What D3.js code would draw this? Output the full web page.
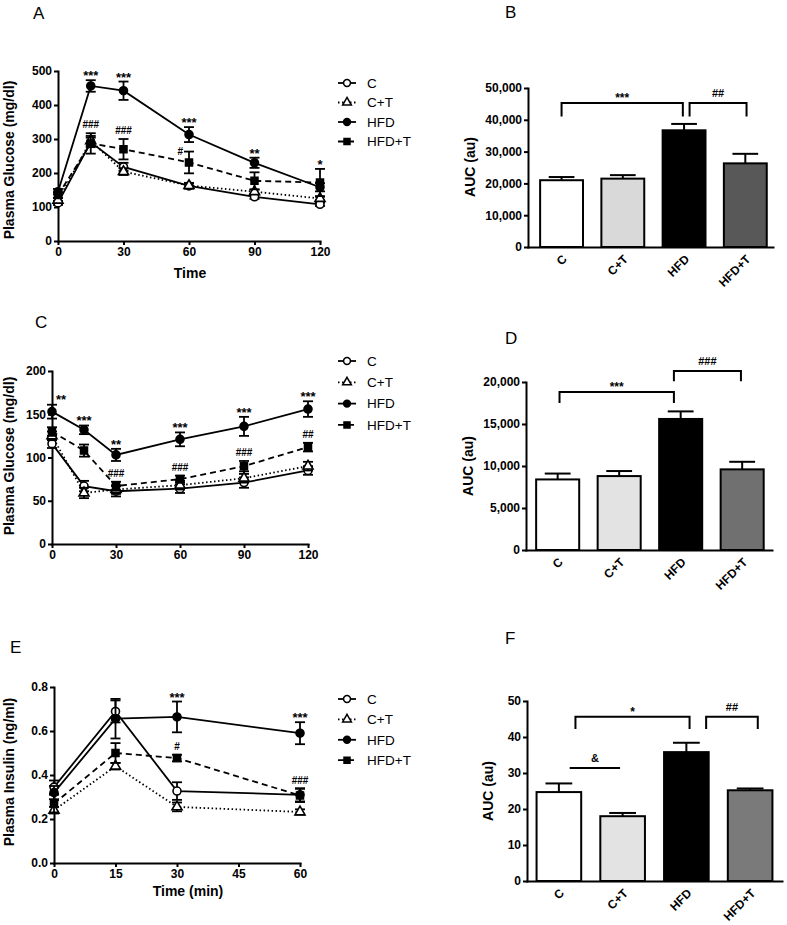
<!DOCTYPE html>
<html><head><meta charset="utf-8">
<script src="https://cdn.jsdelivr.net/npm/d3@7/dist/d3.min.js"></script>
<style>
body{margin:0;background:#fff}
svg{font-family:"Liberation Sans",Arial,sans-serif;display:block}
</style></head><body>
<svg id="fig" width="787" height="925"></svg>
<script>
// ---------------- DATA ----------------
const groups = ["C", "C+T", "HFD", "HFD+T"];

// Panel A: glucose tolerance test
const timeGTT = [0, 15, 30, 60, 90, 120];
const gttC = [112, 290, 218, 162, 130, 108];
const gttCErr = [6, 14, 12, 8, 6, 5];
const gttCT = [120, 295, 204, 163, 145, 125];
const gttCTErr = [6, 14, 10, 8, 6, 5];
const gttHFD = [145, 456, 442, 313, 230, 158];
const gttHFDErr = [8, 17, 27, 22, 15, 12];
const gttHFDT = [135, 287, 270, 231, 177, 172];
const gttHFDTErr = [8, 30, 30, 32, 25, 40];
const gttYTicks = [0, 100, 200, 300, 400, 500];
const gttXTicks = [0, 30, 60, 90, 120];

// Panel C: insulin tolerance test
const timeITT = [0, 15, 30, 60, 90, 120];
const ittC = [116, 67, 61, 64, 71, 85];
const ittCErr = [5, 6, 6, 5, 6, 5];
const ittCT = [125, 59, 63, 68, 76, 90];
const ittCTErr = [5, 6, 5, 5, 5, 5];
const ittHFD = [153, 132, 103, 121, 136, 156];
const ittHFDErr = [8, 5, 7, 8, 11, 9];
const ittHFDT = [130, 108, 67, 75, 90, 112];
const ittHFDTErr = [5, 7, 5, 4, 6, 5];
const ittYTicks = [0, 50, 100, 150, 200];
const ittXTicks = [0, 30, 60, 90, 120];

// Panel E: plasma insulin
const timeIns = [0, 15, 30, 60];
const insC = [0.345, 0.689, 0.327, 0.31];
const insCErr = [0.03, 0.05, 0.04, 0.03];
const insCT = [0.24, 0.44, 0.255, 0.232];
const insCTErr = [0.015, 0.015, 0.02, 0.012];
const insHFD = [0.32, 0.656, 0.664, 0.59];
const insHFDErr = [0.03, 0.09, 0.07, 0.05];
const insHFDT = [0.27, 0.50, 0.477, 0.307];
const insHFDTErr = [0.04, 0.045, 0.015, 0.03];
const insYTicks = [0, 0.2, 0.4, 0.6, 0.8];
const insXTicks = [0, 15, 30, 45, 60];

// Panels B, D, F: AUC
const aucGTT = [21000, 21500, 36700, 26300];
const aucGTTErr = [1000, 1100, 2000, 3000];
const aucGTTTicks = [0, 10000, 20000, 30000, 40000, 50000];
const aucITT = [8400, 8800, 15600, 9600];
const aucITTErr = [700, 600, 900, 900];
const aucITTTicks = [0, 5000, 10000, 15000, 20000];
const aucIns = [24.7, 18.0, 35.8, 25.2];
const aucInsErr = [2.4, 0.9, 2.6, 0.5];
const aucInsTicks = [0, 10, 20, 30, 40, 50];

// significance annotations
const annGTT = [
  {t: 15, s: "HFD", txt: "***"}, {t: 30, s: "HFD", txt: "***"}, {t: 60, s: "HFD", txt: "***"},
  {t: 90, s: "HFD", txt: "**"}, {t: 120, s: "HFD+T", txt: "*"},
  {t: 15, s: "HFD+T", txt: "###"}, {t: 30, s: "HFD+T", txt: "###"}, {t: 60, s: "HFD+T", txt: "#", side: "left"}
];
const annITT = [
  {t: 0, s: "HFD", txt: "**", side: "right"}, {t: 15, s: "HFD", txt: "***"}, {t: 30, s: "HFD", txt: "**"},
  {t: 60, s: "HFD", txt: "***"}, {t: 90, s: "HFD", txt: "***"}, {t: 120, s: "HFD", txt: "***"},
  {t: 30, s: "HFD+T", txt: "###"}, {t: 60, s: "HFD+T", txt: "###"}, {t: 90, s: "HFD+T", txt: "###"},
  {t: 120, s: "HFD+T", txt: "##"}
];
const annIns = [
  {t: 30, s: "HFD", txt: "***"}, {t: 60, s: "HFD", txt: "***"},
  {t: 30, s: "HFD+T", txt: "#"}, {t: 60, s: "HFD+T", txt: "###"}
];
const bracketsGTT = [
  {from: "C", fOff: 0, to: "HFD", tOff: -0.02, level: 45300, leg: 41000, txt: "***"},
  {from: "HFD", fOff: 0.09, to: "HFD+T", tOff: 0.02, level: 45300, leg: 41000, txt: "##"}
];
const bracketsITT = [
  {from: "C", fOff: 0.03, to: "HFD", tOff: -0.11, level: 18800, leg: 17500, txt: "***"},
  {from: "HFD", fOff: -0.11, to: "HFD+T", tOff: -0.02, level: 21300, leg: 20100, txt: "###"}
];
const bracketsIns = [
  {from: "C", fOff: 0.26, to: "HFD", tOff: 0.05, level: 45.6, leg: 42.2, txt: "*"},
  {from: "HFD", fOff: 0.31, to: "HFD+T", tOff: 0.12, level: 45.6, leg: 42.2, txt: "##"},
  {from: "C", fOff: 0.17, to: "C+T", tOff: -0.04, level: 31.4, leg: null, txt: "&"}
];

// ---------------- STYLE ----------------
const seriesStyle = {
  "C": {dash: null, sym: d3.symbolCircle, size: 50, fill: "#fff"},
  "C+T": {dash: "1.5,2.5", sym: d3.symbolTriangle, size: 44, fill: "#fff"},
  "HFD": {dash: null, sym: d3.symbolCircle, size: 50, fill: "#000"},
  "HFD+T": {dash: "6,4", sym: d3.symbolSquare, size: 48, fill: "#000"}
};
const drawOrder = ["C", "C+T", "HFD+T", "HFD"];

const svg = d3.select("#fig");

function styleAxis(sel) {
  sel.select(".domain").attr("stroke", "#000").attr("stroke-width", 2).attr("stroke-linecap", "square");
  sel.selectAll(".tick line").attr("stroke", "#000").attr("stroke-width", 2);
  sel.selectAll(".tick text").attr("fill", "#000").attr("font-size", 12).attr("font-weight", "bold")
    .attr("font-family", "'Liberation Sans', Arial, sans-serif");
}

function panelLabel(txt, x, y) {
  svg.append("text").attr("x", x).attr("y", y).attr("font-size", 17).text(txt);
}

function yTitle(txt, x, y) {
  svg.append("text").attr("transform", `translate(${x},${y}) rotate(-90)`)
    .attr("text-anchor", "middle").attr("font-size", 14).attr("font-weight", "bold").text(txt);
}

function linePanel(cfg) {
  const g = svg.append("g");
  const x = d3.scaleLinear().domain(cfg.xDomain).range(cfg.xRange);
  const y = d3.scaleLinear().domain(cfg.yDomain).range(cfg.yRange);
  g.append("g").attr("transform", `translate(${cfg.xRange[0]},0)`)
    .call(d3.axisLeft(y).tickValues(cfg.yTicks).tickSize(4).tickSizeOuter(0).tickPadding(2).tickFormat(cfg.yFormat))
    .call(styleAxis);
  g.append("g").attr("transform", `translate(0,${cfg.yRange[0]})`)
    .call(d3.axisBottom(x).tickValues(cfg.xTicks).tickSize(4).tickSizeOuter(0).tickPadding(2))
    .call(styleAxis);

  const byName = {};
  cfg.series.forEach(s => { byName[s.name] = s; });

  drawOrder.forEach(name => {
    const s = byName[name], st = seriesStyle[name];
    const pts = cfg.times.map((t, i) => ({t, v: s.values[i], e: s.errors[i]}));
    g.append("path").datum(pts)
      .attr("d", d3.line().x(d => x(d.t)).y(d => y(d.v)))
      .attr("fill", "none").attr("stroke", "#000").attr("stroke-width", 1.8)
      .attr("stroke-dasharray", st.dash);
    const eb = g.append("g").attr("stroke", "#000").attr("stroke-width", 1.8);
    pts.forEach(d => {
      eb.append("line").attr("x1", x(d.t)).attr("x2", x(d.t)).attr("y1", y(d.v - d.e)).attr("y2", y(d.v + d.e));
      eb.append("line").attr("x1", x(d.t) - 5).attr("x2", x(d.t) + 5).attr("y1", y(d.v + d.e)).attr("y2", y(d.v + d.e));
      eb.append("line").attr("x1", x(d.t) - 5).attr("x2", x(d.t) + 5).attr("y1", y(d.v - d.e)).attr("y2", y(d.v - d.e));
    });
    g.selectAll(null).data(pts).enter().append("path")
      .attr("d", d3.symbol().type(st.sym).size(st.size))
      .attr("transform", d => `translate(${x(d.t)},${y(d.v)})`)
      .attr("fill", st.fill).attr("stroke", "#000").attr("stroke-width", 1.6);
  });

  cfg.ann.forEach(a => {
    const s = byName[a.s];
    const i = cfg.times.indexOf(a.t);
    const top = y(s.values[i] + s.errors[i]);
    const isStar = a.txt.indexOf("*") >= 0;
    const t = g.append("text").attr("font-weight", "bold").text(a.txt)
      .attr("font-size", isStar ? 13 : 10);
    if (a.side === "right") {
      t.attr("x", x(a.t) + 4).attr("y", top - 1).attr("text-anchor", "start");
    } else if (a.side === "left") {
      t.attr("x", x(a.t) - 6).attr("y", top + 3).attr("text-anchor", "end");
    } else {
      t.attr("x", x(a.t)).attr("y", isStar ? top : top - 5).attr("text-anchor", "middle");
    }
  });

  if (cfg.xTitle) {
    g.append("text").attr("x", cfg.xTitlePos[0]).attr("y", cfg.xTitlePos[1])
      .attr("text-anchor", "middle").attr("font-size", 14).attr("font-weight", "bold").text(cfg.xTitle);
  }

  // legend
  const lg = g.append("g");
  groups.forEach((name, i) => {
    const st = seriesStyle[name];
    const cy = cfg.legend.y + i * cfg.legend.dy;
    const x0 = cfg.legend.x;
    lg.append("line").attr("x1", x0).attr("x2", x0 + 18).attr("y1", cy).attr("y2", cy)
      .attr("stroke", "#000").attr("stroke-width", 1.8).attr("stroke-dasharray", st.dash);
    lg.append("path").attr("d", d3.symbol().type(st.sym).size(st.size * 0.75)())
      .attr("transform", `translate(${x0 + 9},${cy})`)
      .attr("fill", st.fill).attr("stroke", "#000").attr("stroke-width", 1.5);
    lg.append("text").attr("x", x0 + 29).attr("y", cy).attr("dy", "0.36em")
      .attr("font-size", 13.5).text(name);
  });
}

function barPanel(cfg) {
  const g = svg.append("g");
  const x = d3.scaleBand().domain(groups).range(cfg.xRange)
    .paddingInner(0.3).paddingOuter(0.15).align(cfg.align);
  const y = d3.scaleLinear().domain(cfg.yDomain).range(cfg.yRange);
  const bw = x.bandwidth();
  const step = x.step();

  groups.forEach((name, i) => {
    const v = cfg.values[i], e = cfg.errors[i];
    const cx = x(name) + bw / 2;
    g.append("line").attr("x1", cx).attr("x2", cx).attr("y1", y(v)).attr("y2", y(v + e))
      .attr("stroke", "#000").attr("stroke-width", 2);
    g.append("line").attr("x1", cx - bw * 0.3).attr("x2", cx + bw * 0.3).attr("y1", y(v + e)).attr("y2", y(v + e))
      .attr("stroke", "#000").attr("stroke-width", 2);
    g.append("rect").attr("x", x(name)).attr("y", y(v)).attr("width", bw).attr("height", y(0) - y(v))
      .attr("fill", cfg.colors[i]).attr("stroke", "#000").attr("stroke-width", 2);
  });

  g.append("g").attr("transform", `translate(${cfg.xRange[0]},0)`)
    .call(d3.axisLeft(y).tickValues(cfg.yTicks).tickSize(4).tickSizeOuter(0).tickPadding(2).tickFormat(cfg.yFormat))
    .call(styleAxis);
  const xa = g.append("g").attr("transform", `translate(0,${cfg.yRange[0]})`)
    .call(d3.axisBottom(x).tickSize(0).tickSizeOuter(0))
    .call(styleAxis);
  xa.selectAll(".tick text").attr("x", 0).attr("y", 0).attr("dy", "0.35em")
    .attr("text-anchor", "end").attr("transform", "translate(3,10) rotate(-45)");

  cfg.brackets.forEach(b => {
    const x1 = x(b.from) + bw / 2 + b.fOff * step;
    const x2 = x(b.to) + bw / 2 + b.tOff * step;
    const ly = y(b.level);
    let d;
    if (b.leg === null) d = `M${x1},${ly}H${x2}`;
    else d = `M${x1},${y(b.leg)}V${ly}H${x2}V${y(b.leg)}`;
    g.append("path").attr("d", d).attr("stroke", "#000").attr("stroke-width", 2).attr("fill", "none");
    const isStar = b.txt.indexOf("*") >= 0;
    g.append("text").attr("x", (x1 + x2) / 2).attr("y", isStar ? ly - 1 : ly - 6)
      .attr("text-anchor", "middle").attr("font-weight", "bold")
      .attr("font-size", isStar ? 12 : 11).text(b.txt);
  });
}

// ---------------- PANELS ----------------
const commaFmt = d3.format(",");

panelLabel("A", 33, 19);
yTitle("Plasma Glucose (mg/dl)", 14, 160);
linePanel({
  xDomain: [0, 120], xRange: [58, 320], yDomain: [0, 500], yRange: [241, 71],
  yTicks: gttYTicks, xTicks: gttXTicks, yFormat: d3.format("d"), times: timeGTT,
  series: [
    {name: "C", values: gttC, errors: gttCErr},
    {name: "C+T", values: gttCT, errors: gttCTErr},
    {name: "HFD", values: gttHFD, errors: gttHFDErr},
    {name: "HFD+T", values: gttHFDT, errors: gttHFDTErr}
  ],
  ann: annGTT, xTitle: "Time", xTitlePos: [190, 278],
  legend: {x: 338, y: 83, dy: 19.5}
});

panelLabel("B", 505, 18);
yTitle("AUC (au)", 475, 167);
barPanel({
  xRange: [528, 773], yDomain: [0, 50000], yRange: [247, 88], align: 0.66,
  yTicks: aucGTTTicks, yFormat: commaFmt, values: aucGTT, errors: aucGTTErr,
  colors: ["#ffffff", "#d9d9d9", "#000000", "#585858"], brackets: bracketsGTT
});

panelLabel("C", 35, 328);
yTitle("Plasma Glucose (mg/dl)", 14, 456);
linePanel({
  xDomain: [0, 120], xRange: [52, 308], yDomain: [0, 200], yRange: [544, 371],
  yTicks: ittYTicks, xTicks: ittXTicks, yFormat: d3.format("d"), times: timeITT,
  series: [
    {name: "C", values: ittC, errors: ittCErr},
    {name: "C+T", values: ittCT, errors: ittCTErr},
    {name: "HFD", values: ittHFD, errors: ittHFDErr},
    {name: "HFD+T", values: ittHFDT, errors: ittHFDTErr}
  ],
  ann: annITT, xTitle: null,
  legend: {x: 338, y: 361, dy: 21.3}
});

panelLabel("D", 505, 344);
yTitle("AUC (au)", 473, 466);
barPanel({
  xRange: [526, 772], yDomain: [0, 20000], yRange: [550, 382], align: 0.55,
  yTicks: aucITTTicks, yFormat: commaFmt, values: aucITT, errors: aucITTErr,
  colors: ["#ffffff", "#e3e3e3", "#000000", "#707070"], brackets: bracketsITT
});

panelLabel("E", 10, 653);
yTitle("Plasma Insulin (ng/ml)", 14, 772);
linePanel({
  xDomain: [0, 60], xRange: [54, 300], yDomain: [0, 0.8], yRange: [863, 687],
  yTicks: insYTicks, xTicks: insXTicks, yFormat: d3.format(".1f"), times: timeIns,
  series: [
    {name: "C", values: insC, errors: insCErr},
    {name: "C+T", values: insCT, errors: insCTErr},
    {name: "HFD", values: insHFD, errors: insHFDErr},
    {name: "HFD+T", values: insHFDT, errors: insHFDTErr}
  ],
  ann: annIns, xTitle: "Time (min)", xTitlePos: [188, 896],
  legend: {x: 338, y: 699, dy: 20.4}
});

panelLabel("F", 505, 644);
yTitle("AUC (au)", 493, 791);
barPanel({
  xRange: [527, 782], yDomain: [0, 50], yRange: [881, 701], align: 0.5,
  yTicks: aucInsTicks, yFormat: d3.format("d"), values: aucIns, errors: aucInsErr,
  colors: ["#ffffff", "#e3e3e3", "#000000", "#7a7a7a"], brackets: bracketsIns
});
</script>
</body></html>
